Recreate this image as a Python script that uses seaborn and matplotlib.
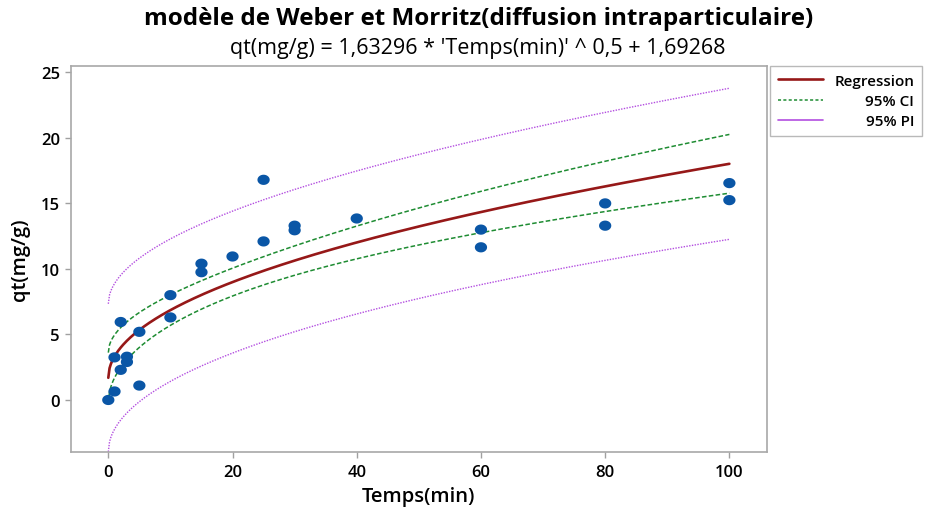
import numpy as np
import pandas as pd
import seaborn as sns
import matplotlib
matplotlib.use("Agg")
import matplotlib.pyplot as plt
from matplotlib.lines import Line2D
from matplotlib.path import Path

# Kinetic data: contact time and adsorbed amount
temps_min = [0, 1, 1, 2, 2, 3, 3, 5, 5, 10, 10, 15, 15, 20, 25, 25, 30, 30, 40,
             60, 60, 80, 80, 100, 100]
qt_mg_g = [0.0, 0.65, 3.25, 5.95, 2.3, 3.3, 2.9, 5.2, 1.1, 8.0, 6.3, 10.4, 9.75,
           10.95, 16.8, 12.1, 13.3, 12.95, 13.85, 13.0, 11.65, 15.0, 13.3, 16.55, 15.25]

# Fitted Weber-Morris model: qt = k * t^0.5 + C
k_id = 1.63296
c_id = 1.69268
t_crit = 2.0687  # Student t, 0.975 quantile, 23 degrees of freedom

x_ticks = [0, 20, 40, 60, 80, 100]
y_ticks = [0, 5, 10, 15, 20, 25]
legend_labels = ["Regression", "95% CI", "95% PI"]

df = pd.DataFrame({"Temps(min)": temps_min, "qt(mg/g)": qt_mg_g})
u = np.sqrt(df["Temps(min)"].to_numpy(float))
y = df["qt(mg/g)"].to_numpy(float)
n = len(y)
resid = y - (k_id * u + c_id)
s = np.sqrt(np.sum(resid ** 2) / (n - 2))
u_bar = u.mean()
sxx = np.sum((u - u_bar) ** 2)

grid_t = np.linspace(0, 100, 500)
grid_u = np.sqrt(grid_t)
fit = k_id * grid_u + c_id
lev = 1.0 / n + (grid_u - u_bar) ** 2 / sxx
ci = t_crit * s * np.sqrt(lev)
pi = t_crit * s * np.sqrt(1.0 + lev)
curves = pd.DataFrame({"t": grid_t, "fit": fit,
                       "ci_lo": fit - ci, "ci_hi": fit + ci,
                       "pi_lo": fit - pi, "pi_hi": fit + pi})

sns.set_theme(style="ticks")
plt.rcParams["font.family"] = ["Open Sans", "DejaVu Sans"]
plt.rcParams["text.color"] = "black"
plt.rcParams["axes.labelcolor"] = "black"

fig = plt.figure(figsize=(9.25, 5.1), dpi=100)
ax = fig.add_axes([0.0768, 0.111, 0.752, 0.758])

red = "#961818"
green = "#1e8c32"
purple = "#b34ee0"
blue = "#0a56a6"

for col in ["pi_lo", "pi_hi"]:
    sns.lineplot(data=curves, x="t", y=col, ax=ax, color=purple, lw=1.0,
                 linestyle=(0, (1, 1)), legend=False)
for col in ["ci_lo", "ci_hi"]:
    sns.lineplot(data=curves, x="t", y=col, ax=ax, color=green, lw=1.1,
                 linestyle=(0, (3, 1.5)), legend=False)
sns.lineplot(data=curves, x="t", y="fit", ax=ax, color=red, lw=1.9, legend=False)

# slightly wide oval marker
theta = np.linspace(0, 2 * np.pi, 40)
oval = Path(np.column_stack([1.2 * np.cos(theta), np.sin(theta)]), closed=True)
sns.scatterplot(data=df, x="Temps(min)", y="qt(mg/g)", ax=ax, color=blue,
                marker=oval, s=78, edgecolor="none", zorder=5, legend=False)

ax.set_xlim(-6, 106)
ax.set_ylim(-4, 25.5)
ax.set_xticks(x_ticks)
ax.set_yticks(y_ticks)
ax.tick_params(axis="both", length=4, width=1, color="#a0a0a0",
               labelsize=12, labelcolor="black", pad=4)
for lab in ax.get_xticklabels() + ax.get_yticklabels():
    lab.set_fontweight("semibold")
for sp in ax.spines.values():
    sp.set_color("#a8a8a8")
    sp.set_linewidth(1.2)
    sp.set_visible(True)

ax.set_xlabel("Temps(min)", fontsize=14.5, fontweight="semibold", labelpad=5)
ax.set_ylabel("qt(mg/g)", fontsize=14.5, fontweight="semibold", labelpad=8)

fig.text(0.517, 0.962, "modèle de Weber et Morritz(diffusion intraparticulaire)",
         ha="center", va="center", fontsize=17.5, fontweight="bold")
fig.text(0.517, 0.905, "qt(mg/g) = 1,63296 * 'Temps(min)' ^ 0,5 + 1,69268",
         ha="center", va="center", fontsize=15.5)

handles = [Line2D([], [], color=red, lw=1.9),
           Line2D([], [], color=green, lw=1.1, linestyle=(0, (2, 1.5))),
           Line2D([], [], color=purple, lw=1.2)]
leg = fig.legend(handles, legend_labels, loc="upper left",
                 bbox_to_anchor=(770 / 925, 1 - 67 / 510),
                 frameon=True, fancybox=False, fontsize=11, handlelength=3.0,
                 borderpad=0.5, labelspacing=0.42, handletextpad=0.7,
                 borderaxespad=0)
leg.get_frame().set_edgecolor("#a8a8a8")
leg.get_frame().set_linewidth(1.0)
for t in leg.get_texts():
    t.set_fontweight("semibold")

# right-align the legend labels
fig.canvas.draw()
renderer = fig.canvas.get_renderer()
widths = [t.get_window_extent(renderer).width for t in leg.get_texts()]
widest = max(widths)
for t, w in zip(leg.get_texts(), widths):
    t.set_position((widest - w, 0))

fig.savefig("out.png", dpi=100)
